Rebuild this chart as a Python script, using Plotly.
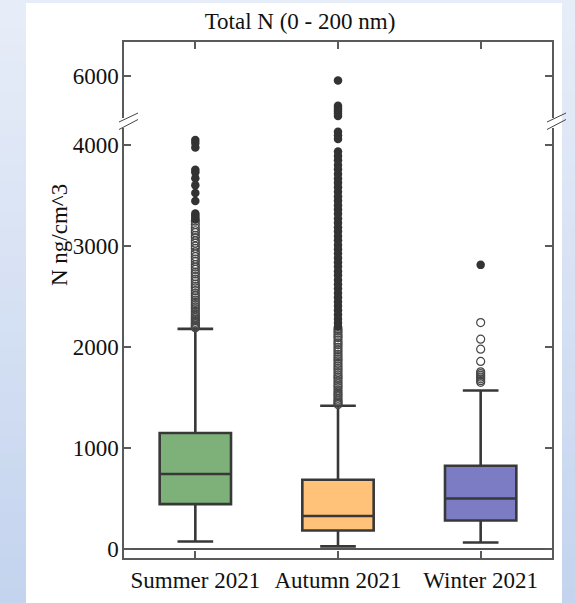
import plotly.graph_objects as go

# ---- data -------------------------------------------------------------
seasons = ["Summer 2021", "Autumn 2021", "Winter 2021"]
q1 = [442, 181, 280]
medians = [740, 324, 498]
q3 = [1146, 683, 822]
lower_whiskers = [72, 23, 62]
upper_whiskers = [2178, 1416, 1567]

summer_outliers = [
    4050, 4020, 3975, 3755, 3730, 3670, 3600, 3525, 3445, 3320, 3300, 3280, 3265,
    3245, 3212, 3178, 3150, 3131, 3104, 3082, 3050, 3027, 2998, 2975, 2941, 2920,
    2893, 2870, 2846, 2815, 2790, 2768, 2741, 2722, 2695, 2671, 2650, 2622, 2600,
    2583, 2557, 2531, 2508, 2486, 2462, 2440, 2418, 2395, 2377, 2352, 2330, 2311,
    2292, 2275, 2260, 2243, 2228, 2214, 2200, 2190,
]
autumn_outliers = [
    5950, 5700, 5680, 5660, 5640, 5620, 5600,
    4130, 4095, 4060, 3935, 3890, 3848, 3801, 3760, 3712, 3668, 3625, 3580, 3536,
    3490, 3447, 3402, 3360, 3318, 3271, 3230, 3185, 3142, 3098, 3055, 3010, 2968,
    2925, 2880, 2838, 2795, 2750, 2708, 2662, 2620, 2577, 2533, 2490, 2447, 2405,
    2362, 2318, 2276, 2235, 2200,
    2180, 2158, 2135, 2110, 2092, 2066, 2040, 2021, 1995, 1972, 1950, 1925, 1903,
    1880, 1861, 1836, 1812, 1790, 1771, 1745, 1722, 1700, 1683, 1660, 1637, 1615,
    1596, 1572, 1551, 1530, 1512, 1490, 1472, 1455, 1440, 1428,
]
winter_outliers = [2812, 2240, 2076, 1977, 1855, 1752, 1735, 1718, 1700, 1683, 1665, 1648]
outliers = [summer_outliers, autumn_outliers, winter_outliers]

low_ticks = [0, 1000, 2000, 3000, 4000]
high_ticks = [6000]

# ---- styling ----------------------------------------------------------
W, H = 575, 603
L, R, T, B = 124, 23, 42, 45
LOW_RANGE = [-92, 4168]
HIGH_RANGE = [5579, 6332]
FILLS = ["#7eb07a", "#ffc278", "#7c7cc4"]
EDGE = "#383838"
AXIS = "#5a5a5a"
FONT = "Times New Roman, Liberation Serif, serif"

plot_w = W - L - R
plot_h = H - T - B


def px_x(x):
    return (x - L) / plot_w


def px_y(y):
    return (H - B - y) / plot_h


low_domain = [0, px_y(128)]
high_domain = [px_y(118), 1]

fig = go.Figure()

for i, name in enumerate(seasons):
    fig.add_trace(go.Box(
        x=[name], q1=[q1[i]], median=[medians[i]], q3=[q3[i]],
        lowerfence=[lower_whiskers[i]], upperfence=[upper_whiskers[i]],
        boxpoints=False, width=0.5, whiskerwidth=0.5,
        fillcolor=FILLS[i], line=dict(color=EDGE, width=2.6),
        xaxis="x", yaxis="y", showlegend=False,
    ))

for i, name in enumerate(seasons):
    iqr = q3[i] - q1[i]
    extreme_cut = q3[i] + 3 * iqr
    vals = outliers[i]
    for axis_x, axis_y, rng in (("x", "y", LOW_RANGE), ("x2", "y2", HIGH_RANGE)):
        inside = [v for v in vals if rng[0] <= v <= rng[1]]
        mild = [v for v in inside if v <= extreme_cut]
        extreme = [v for v in inside if v > extreme_cut]
        if mild:
            fig.add_trace(go.Scatter(
                x=[name] * len(mild), y=mild, mode="markers", cliponaxis=False,
                marker=dict(symbol="circle-open", size=8, color="#474747",
                            line=dict(width=1.2, color="#474747")),
                xaxis=axis_x, yaxis=axis_y, showlegend=False,
            ))
        if extreme:
            fig.add_trace(go.Scatter(
                x=[name] * len(extreme), y=extreme, mode="markers", cliponaxis=False,
                marker=dict(symbol="circle", size=8.5, color="#333333",
                            line=dict(width=0)),
                xaxis=axis_x, yaxis=axis_y, showlegend=False,
            ))

# ---- background: soft blue gradient with a white panel ----------------
shapes = []
top_rgb = (231, 237, 248)
bot_rgb = (196, 212, 238)
n_bands = 40
for k in range(n_bands):
    t = k / (n_bands - 1)
    c = tuple(round(a + (b - a) * t) for a, b in zip(top_rgb, bot_rgb))
    y0 = H * k / n_bands
    y1 = H * (k + 1) / n_bands + 1
    shapes.append(dict(type="rect", xref="paper", yref="paper", layer="below",
                       x0=px_x(0), x1=px_x(W), y0=px_y(y1), y1=px_y(y0),
                       fillcolor="rgb(%d,%d,%d)" % c, line=dict(width=0)))
shapes.append(dict(type="rect", xref="paper", yref="paper", layer="below",
                   x0=px_x(26), x1=px_x(562), y0=px_y(H + 2), y1=px_y(3),
                   fillcolor="white", line=dict(width=0)))

# axis break marks
for x0 in (L, W - R):
    for ya, yb in ((122, 113), (129.5, 119.5)):
        shapes.append(dict(type="line", xref="paper", yref="paper", layer="above",
                           x0=px_x(x0 - 5), x1=px_x(x0 + 14), y0=px_y(ya), y1=px_y(yb),
                           line=dict(color="#444444", width=1)))

tickfont = dict(family=FONT, size=23, color="#111111")

fig.update_layout(
    width=W, height=H,
    margin=dict(l=L, r=R, t=T, b=B, pad=0, autoexpand=False),
    paper_bgcolor="#d6e0f2",
    plot_bgcolor="rgba(0,0,0,0)",
    boxmode="overlay",
    shapes=shapes,
    title=dict(text="Total N (0 - 200 nm)", xref="container", yref="container",
               x=300 / W, xanchor="center", y=1 - 21 / H, yanchor="middle",
               font=dict(family=FONT, size=23, color="#111111")),
    xaxis=dict(domain=[0, 1], anchor="y", type="category", automargin=False,
               categoryorder="array", categoryarray=seasons, range=[-0.5, 2.5],
               showline=True, linecolor=AXIS, linewidth=1.5, mirror=False,
               ticks="inside", ticklen=7, tickcolor=AXIS, tickwidth=1.5,
               showgrid=False, zeroline=False, tickfont=tickfont,
               ticklabelstandoff=1),
    xaxis2=dict(matches="x", anchor="y2", side="top", type="category",
                automargin=False,
                showline=True, linecolor=AXIS, linewidth=1.5,
                ticks="inside", ticklen=7, tickcolor=AXIS, tickwidth=1.5,
                showticklabels=False, showgrid=False, zeroline=False),
    yaxis=dict(domain=low_domain, anchor="x", range=LOW_RANGE, automargin=False,
               tickvals=low_ticks, ticktext=[str(v) for v in low_ticks],
               showline=True, linecolor=AXIS, linewidth=1.5, mirror="ticks",
               ticks="inside", ticklen=7, tickcolor=AXIS, tickwidth=1.5,
               showgrid=False, zeroline=True, zerolinecolor="#555555",
               zerolinewidth=1.5, tickfont=tickfont, ticklabelstandoff=-1),
    yaxis2=dict(domain=high_domain, anchor="x2", range=HIGH_RANGE, automargin=False,
                tickvals=high_ticks, ticktext=[str(v) for v in high_ticks],
                showline=True, linecolor=AXIS, linewidth=1.5, mirror="ticks",
                ticks="inside", ticklen=7, tickcolor=AXIS, tickwidth=1.5,
                showgrid=False, zeroline=False, tickfont=tickfont,
                ticklabelstandoff=-1),
    annotations=[dict(text="N ng/cm^3", xref="paper", yref="paper",
                      x=px_x(59), y=px_y(235), textangle=-90, showarrow=False,
                      xanchor="center", yanchor="middle",
                      font=dict(family=FONT, size=23, color="#111111"))],
)

fig.write_html("out.html")
